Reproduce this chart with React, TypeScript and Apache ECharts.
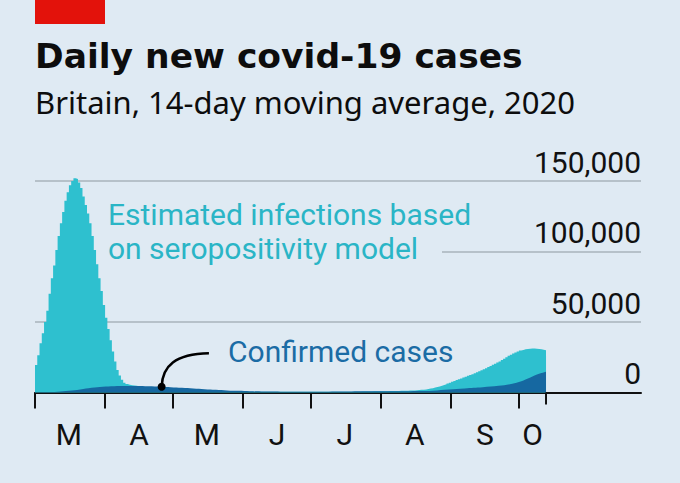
import React, { useEffect, useRef } from "react";
import * as echarts from "echarts";

// Days are counted from March 1st 2020 (day 0)
const monthLabels = ["M", "A", "M", "J", "J", "A", "S", "O"];
const monthLabelDays = [15, 46, 76, 107, 137, 168, 199, 220];
const monthStartDays = [0, 31, 61, 92, 122, 153, 184, 214];
const lastDataDay = 226;
const xMaxDay = 268;

const yMax = 150000;
const yStep = 50000;

// Estimated infections, thousands per day (daily steps from Mar 1)
const estimatedK = [
  19.5, 26.5, 35, 42, 50, 58, 70, 81, 90, 101,
  111, 120, 128, 136, 142, 147, 150, 152, 151.5, 149,
  145, 139, 133, 127, 120, 111, 101, 91, 81, 72,
  62, 53, 45, 37, 29, 22, 16, 12, 9, 7,
  6, 5.5, 5.2, 5.0, 4.8,
  4.4, 4.2, 4.0, 3.9, 3.7, 3.6, 3.5, 3.3, 3.2, 3.1, 3.0, 2.9, 2.8, 2.7, 2.6,
  2.5, 2.4, 2.3, 2.2, 2.1, 2.0, 1.9, 1.8, 1.7, 1.6,
  1.5, 1.4, 1.4, 1.3, 1.2, 1.2, 1.1, 1.0, 1.0, 0.9,
  0.9, 0.8, 0.8, 0.7, 0.7, 0.7, 0.6, 0.6, 0.6, 0.5,
  0.5, 0.5, 0.5, 0.5, 0.5, 0.5, 0.5, 0.5, 0.5, 0.5,
  0.5, 0.5, 0.5, 0.5, 0.5, 0.5, 0.5, 0.5, 0.5, 0.5,
  0.5, 0.5, 0.5, 0.5, 0.5, 0.5, 0.5, 0.5, 0.5, 0.5,
  0.5, 0.5, 0.5, 0.5, 0.5, 0.5, 0.5, 0.5, 0.5, 0.5,
  0.5, 0.5, 0.5, 0.5, 0.5, 0.6, 0.6, 0.6, 0.6, 0.6,
  0.6, 0.6, 0.6, 0.6, 0.7, 0.7, 0.7, 0.7, 0.7, 0.8,
  0.8, 0.8, 0.8, 0.9, 0.9, 0.9, 1.0, 1.0, 1.0, 1.1,
  1.1, 1.2, 1.2, 1.3, 1.3, 1.4, 1.5, 1.5, 1.6, 1.7,
  1.9, 2.0, 2.2, 2.5, 2.8, 3.1, 3.5, 3.9, 4.3, 4.8,
  5.3, 5.8, 6.4, 7.0, 7.6, 8.2, 8.8, 9.4, 10.0, 10.6,
  11.2, 11.8, 12.4, 13.0, 13.7, 14.4, 15.1, 15.8, 16.5, 17.2,
  18.0, 18.8, 19.6, 20.4, 21.2, 22.0, 23.0, 24.0, 25.0, 26.0,
  26.8, 27.6, 28.4, 29.1, 29.7, 30.2, 30.6, 30.9, 31.1, 31.2,
  31.2, 31.1, 30.9, 30.6, 30.3, 30.0,
];

// Confirmed cases, thousands per day
const confirmedDays = [0, 5, 10, 15, 20, 25, 30, 35, 40, 45, 50, 56, 60, 65, 70, 75, 80, 85, 90, 95, 100, 110, 120, 130, 140, 150, 160, 170, 176, 183, 190, 198, 205, 210, 214, 218, 222, 226];
const confirmedK = [0.1, 0.3, 0.6, 1.2, 2.2, 3.4, 4.1, 4.5, 4.6, 4.6, 4.4, 4.1, 3.8, 3.3, 2.8, 2.3, 1.9, 1.5, 1.2, 0.9, 0.7, 0.6, 0.55, 0.6, 0.7, 0.8, 0.9, 1.1, 1.3, 2.1, 2.9, 3.7, 4.7, 5.8, 7.4, 10.0, 12.8, 14.8];

const calloutDay = 56;
const calloutValueK = 4.1;

const BG = "#dfeaf3";
const CYAN = "#2ec0cf";
const DARK = "#1668a1";
const CYAN_TEXT = "#2ab5c6";
const DARK_TEXT = "#1b6ca5";
const GRID = "#b6c1c9";
const INK = "#111111";
const RED = "#e3120b";

export default function App() {
  const ref = useRef<HTMLDivElement>(null);

  useEffect(() => {
    if (!ref.current) return;
    const chart = echarts.init(ref.current, null, { renderer: "svg" });

    const estData = estimatedK.map((v, i) => [i, v * 1000]);
    estData.push([estimatedK.length, estimatedK[estimatedK.length - 1] * 1000]);
    const confData = confirmedDays.map((d, i) => [d, confirmedK[i] * 1000]);

    chart.setOption({
      animation: false,
      backgroundColor: BG,
      textStyle: { fontFamily: "Roboto" },
      grid: { left: 35, right: 39, top: 181, bottom: 90.5, containLabel: false, outerBoundsMode: "none" },
      xAxis: {
        type: "value",
        min: 0,
        max: xMaxDay,
        position: "bottom",
        axisLine: { show: true, onZero: false, lineStyle: { color: INK, width: 2 } },
        axisTick: { show: true, length: 16, customValues: monthStartDays, lineStyle: { color: INK, width: 2 } },
        axisLabel: {
          show: true,
          customValues: monthLabelDays,
          formatter: (v: number) => {
            const i = monthLabelDays.indexOf(v);
            return i >= 0 ? monthLabels[i] : "";
          },
          margin: 27,
          fontSize: 30,
          fontFamily: "Roboto",
          color: INK,
        },
        splitLine: { show: false },
      },
      yAxis: {
        type: "value",
        min: 0,
        max: yMax,
        interval: yStep,
        position: "right",
        axisLine: { show: false },
        axisTick: { show: false },
        axisLabel: {
          inside: true,
          margin: 0,
          verticalAlign: "bottom",
          padding: [0, 0, 4, 0],
          fontSize: 30,
          fontFamily: "Roboto",
          color: INK,
          formatter: (v: number) => v.toLocaleString("en-US"),
        },
        splitLine: { show: true, lineStyle: { color: GRID, width: 2 } },
      },
      series: [
        {
          type: "line",
          name: "Estimated infections",
          data: estData,
          step: "end",
          symbol: "none",
          showSymbol: false,
          clip: false,
          lineStyle: { width: 0, opacity: 0 },
          areaStyle: { color: CYAN, opacity: 1 },
          z: 2,
          silent: true,
        },
        {
          type: "line",
          name: "Confirmed cases",
          data: confData,
          smooth: 0.4,
          symbol: "none",
          showSymbol: false,
          lineStyle: { width: 0, opacity: 0 },
          areaStyle: { color: DARK, opacity: 1 },
          z: 3,
          silent: true,
        },
      ],
    });

    const p = chart.convertToPixel({ gridIndex: 0 }, [calloutDay, calloutValueK * 1000]) as number[];
    const endTick = chart.convertToPixel({ gridIndex: 0 }, [lastDataDay, 0]) as number[];

    chart.setOption({
      graphic: [
        { type: "rect", shape: { x: 35, y: 0, width: 70, height: 24 }, style: { fill: RED }, z: 10 },
        {
          type: "text", x: 35, y: 56.4, z: 10,
          style: { text: "Daily new covid-19 cases", fontFamily: "DejaVu Sans", fontWeight: "bold", fontSize: 34.5, fill: "#0d0d0d", verticalAlign: "middle", align: "left" },
        },
        {
          type: "text", x: 35, y: 102, z: 10,
          style: { text: "Britain, 14-day moving average, 2020", fontFamily: "Noto Sans", fontSize: 31, fill: "#0d0d0d", verticalAlign: "middle", align: "left" },
        },
        { type: "rect", shape: { x: 35, y: 244, width: 407, height: 14 }, style: { fill: BG }, z: 1 },
        {
          type: "text", x: 108, y: 214.7, z: 10,
          style: { text: "Estimated infections based", fontFamily: "Roboto", fontSize: 30, fill: CYAN_TEXT, verticalAlign: "middle", align: "left" },
        },
        {
          type: "text", x: 108, y: 248, z: 10,
          style: { text: "on seropositivity model", fontFamily: "Roboto", fontSize: 30, fill: CYAN_TEXT, verticalAlign: "middle", align: "left" },
        },
        {
          type: "text", x: 228, y: 351.4, z: 10,
          style: { text: "Confirmed cases", fontFamily: "Roboto", fontSize: 30, fill: DARK_TEXT, verticalAlign: "middle", align: "left" },
        },
        {
          type: "bezierCurve", z: 10,
          shape: { x1: p[0], y1: p[1], cpx1: p[0] + 0.8, cpy1: p[1] - 20.7, cpx2: p[0] + 13.3, cpy2: p[1] - 32.7, x2: p[0] + 47.3, y2: p[1] - 33.4 },
          style: { stroke: "#000", lineWidth: 2.5, fill: "none" },
        },
        { type: "circle", z: 11, shape: { cx: p[0], cy: p[1], r: 4 }, style: { fill: "#000" } },
        {
          type: "line", z: 10,
          shape: { x1: endTick[0], y1: endTick[1], x2: endTick[0], y2: endTick[1] + 12 },
          style: { stroke: INK, lineWidth: 2 },
        },
      ],
    });

    return () => chart.dispose();
  }, []);

  return <div ref={ref} style={{ position: "fixed", left: 0, top: 0, width: 680, height: 483 }} />;
}
